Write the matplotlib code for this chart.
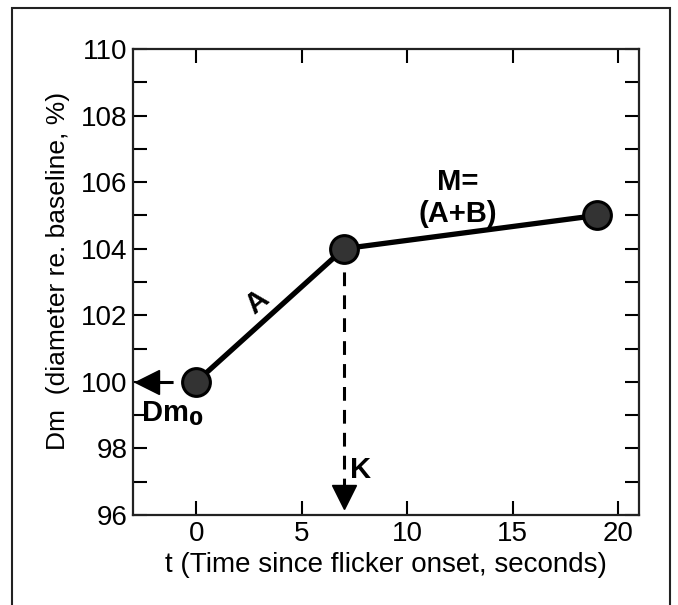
import matplotlib
matplotlib.use("Agg")
import matplotlib.pyplot as plt
from matplotlib.patches import Rectangle
from matplotlib.ticker import MultipleLocator

plt.rcParams["font.family"] = ["Liberation Sans", "DejaVu Sans"]

# data
t_pts = [0, 7, 19]          # seconds
dm_pts = [100, 104, 105]    # diameter, % of baseline

X_LIM = (-3, 21)
Y_LIM = (96, 110)
X_TICKS = [0, 5, 10, 15, 20]
Y_TICKS = [96, 98, 100, 102, 104, 106, 108, 110]

# arrow heads (Dm0 on the y axis, K on the x axis)
DM0_HEAD_X = -2.35
K_HEAD_Y = 96.55
DM0_DASH_END = -1.8
K_DASH_END = 96.9

fig = plt.figure(figsize=(6.78, 6.05), dpi=100)
ax = fig.add_axes([133 / 678, 1 - 515 / 605, 506 / 678, 466 / 605])

# dashed guides
ax.plot([t_pts[0], DM0_DASH_END], [dm_pts[0], dm_pts[0]], color="black",
        lw=2.2, dashes=(4.5, 3), zorder=2)
ax.plot([t_pts[1], t_pts[1]], [dm_pts[1], K_DASH_END], color="black",
        lw=2.2, dashes=(4.5, 3), zorder=2)
ax.plot([DM0_HEAD_X], [dm_pts[0]], marker="<", ms=17, color="black",
        clip_on=False, zorder=3)
ax.plot([t_pts[1]], [K_HEAD_Y], marker="v", ms=17, color="black",
        clip_on=False, zorder=3)

# main piecewise line
ax.plot(t_pts, dm_pts, color="black", lw=3.8, zorder=4)
ax.plot(t_pts, dm_pts, ls="none", marker="o", ms=20, mfc="#333333",
        mec="black", mew=2.2, zorder=5)

# labels on the figure
ax.text(2.9, 102.4, "A", fontsize=21, fontweight="bold", rotation=40,
        ha="center", va="center")
ax.text(12.4, 105.52, "M=\n(A+B)", fontsize=21, fontweight="bold",
        ha="center", va="center", linespacing=1.15)
ax.text(-2.6, 99.05, r"Dm$_\mathbf{0}$", fontsize=21, fontweight="bold",
        ha="left", va="center")
ax.text(7.3, 97.35, "K", fontsize=21, fontweight="bold",
        ha="left", va="center")

ax.set_xlim(*X_LIM)
ax.set_ylim(*Y_LIM)
ax.set_xticks(X_TICKS)
ax.set_yticks(Y_TICKS)
ax.yaxis.set_minor_locator(MultipleLocator(1))
ax.tick_params(which="both", direction="in", top=True, right=True,
               length=10, width=1.5, labelsize=20, pad=4)
for s in ax.spines.values():
    s.set_linewidth(1.6)
    s.set_color("#222222")

ax.set_xlabel("t (Time since flicker onset, seconds)", fontsize=20, labelpad=4)
ax.set_ylabel("Dm  (diameter re. baseline, %)", fontsize=19)
ax.yaxis.set_label_coords(-0.125, 0.523)

# outer frame around the figure
fig.patches.append(Rectangle((12 / 678, -0.02), 658 / 678, 1.02 - 8 / 605,
                             transform=fig.transFigure, fill=False,
                             lw=1.5, ec="#222222"))

fig.savefig("out.png", dpi=100)
